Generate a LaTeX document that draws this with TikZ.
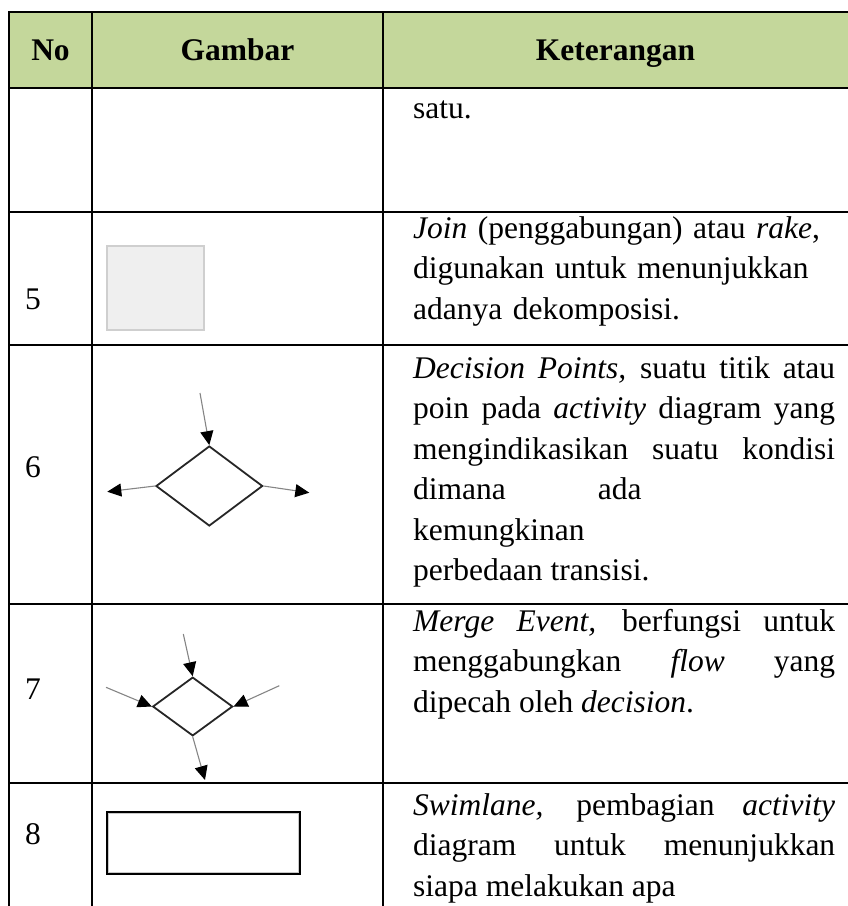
\documentclass[tikz,border=0pt]{standalone}
\usepackage{fontspec}
\setmainfont{Liberation Serif}
\usetikzlibrary{arrows.meta,shapes.geometric}
\definecolor{headgreen}{HTML}{C4D79B}
\definecolor{joinfill}{HTML}{EFEFEF}
\definecolor{joinedge}{HTML}{CFCFCF}
\definecolor{flowgray}{HTML}{858585}
\definecolor{laneshade}{HTML}{C8C8C8}

\begin{document}
\begin{tikzpicture}[x=1pt,y=-1pt,
  rule/.style={line width=2pt,line cap=rect},
  headtext/.style={font=\fontsize{31.5pt}{36pt}\selectfont\bfseries,inner sep=0pt,anchor=base},
  numtext/.style={font=\fontsize{31.5pt}{36pt}\selectfont,inner sep=0pt,anchor=base west},
  desc/.style={font=\fontsize{31.5pt}{40.5pt}\selectfont,inner sep=0pt,anchor=base west,
               text width=422pt,align=justify},
  descleft/.style={desc,align=left},
  flow/.style={draw=flowgray,line width=1.1pt,
               -{Triangle[length=14pt,width=13pt,color=black]}},
  choice/.style={shape=diamond,draw=black!85,line width=1.8pt,inner sep=0pt,fill=white},
  joinbox/.style={draw=joinedge,fill=joinfill,line width=1.5pt,inner sep=0pt,
                  minimum width=97pt,minimum height=84pt},
  lanebox/.style={draw=black,fill=white,line width=2pt,inner sep=0pt,
                  minimum width=193pt,minimum height=62pt}]

\useasboundingbox (0,0) rectangle (848,906);

% header band
\fill[headgreen] (9,12) rectangle (850,88);

% table rules
\foreach \yy in {12,88,212,345,604,783}
  \draw[rule] (9,\yy) -- (850,\yy);
\foreach \xx in {9,92,383}
  \draw[rule] (\xx,12) -- (\xx,908);

% header
\node[headtext] (hno)  at (50.5,60)  {No};
\node[headtext] (hgbr) at (237.5,60) {Gambar};
\node[headtext] (hket) at (615.5,60) {Keterangan};

% row 4 (continued)
\node[descleft] (t4) at (413,118) {satu.};

% row 5: join
\node[numtext] (n5) at (25,309) {5};
\node[joinbox] (join) at (155.5,288) {};
\node[descleft] (t5) at (413,238)
  {\textit{Join} (penggabungan) atau \textit{rake},\\
   digunakan untuk menunjukkan\\
   adanya dekomposisi.};

% row 6: decision
\node[numtext] (n6) at (25,477) {6};
\node[choice,minimum width=106.7pt,minimum height=80pt] (d6) at (209.3,486) {};
\coordinate (d6in)  at (200,393);
\coordinate (d6lft) at (107.3,491.7);
\coordinate (d6rgt) at (309.3,492.7);
\draw[flow] (d6in) -- (d6.north);
\draw[flow] (d6.west) -- (d6lft);
\draw[flow] (d6.east) -- (d6rgt);
\node[desc] (t6) at (413,378)
  {\textit{Decision Points,} suatu titik atau\linebreak
   poin pada \textit{activity} diagram yang\linebreak
   mengindikasikan suatu kondisi\linebreak
   dimana\hspace*{92pt}ada\\
   kemungkinan\\
   perbedaan transisi.};

% row 7: merge
\node[numtext] (n7) at (25,699) {7};
\node[choice,minimum width=80pt,minimum height=58.7pt] (d7) at (192.7,706.5) {};
\coordinate (d7in)  at (183.3,634);
\coordinate (d7lft) at (106,687.3);
\coordinate (d7rgt) at (279.3,685.7);
\coordinate (d7out) at (205,780);
\draw[flow] (d7in) -- (d7.north);
\draw[flow] (d7lft) -- (d7.west);
\draw[flow] (d7rgt) -- (d7.east);
\draw[flow] (d7.south) -- (d7out);
\node[desc] (t7) at (413,631)
  {\textit{Merge Event,} berfungsi untuk\linebreak
   menggabungkan \textit{flow} yang\linebreak
   dipecah oleh \textit{decision}.};

% row 8: swimlane, with a soft inner shade along the frame
\node[numtext] (n8) at (25,844) {8};
\node[lanebox] (lane) at (203.5,843) {};
\draw[laneshade,line width=1.2pt]
  ([shift={(2.6pt,2.6pt)}]lane.south west) rectangle ([shift={(-2.6pt,-2.6pt)}]lane.north east);
\node[desc] (t8) at (413,815)
  {\textit{Swimlane,} pembagian \textit{activity}\linebreak
   diagram untuk menunjukkan\linebreak
   siapa melakukan apa};
\end{tikzpicture}
\end{document}
